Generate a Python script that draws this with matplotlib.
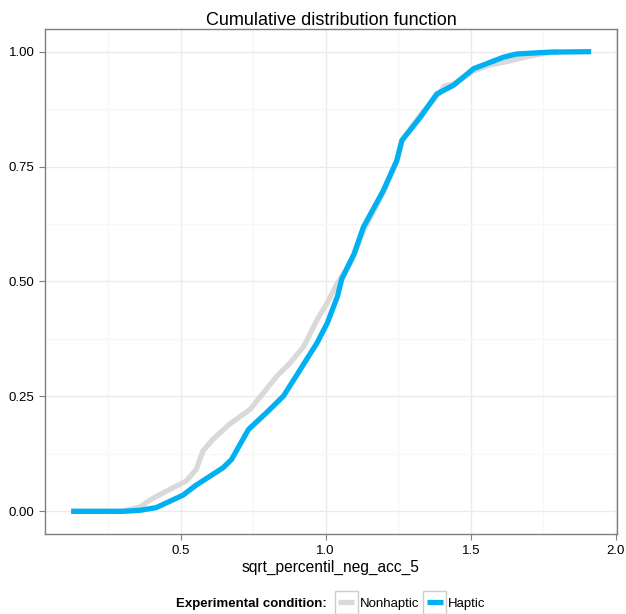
import matplotlib
matplotlib.use('Agg')
import matplotlib.pyplot as plt
from matplotlib.lines import Line2D
from matplotlib.patches import Rectangle
from matplotlib.legend_handler import HandlerBase

plt.rcParams['font.family'] = ['Liberation Sans', 'DejaVu Sans']

# ECDF curves (x, cumulative proportion)
nonhaptic_x = [0.123, 0.30, 0.358, 0.404, 0.473, 0.52, 0.554, 0.577, 0.612, 0.670,
               0.740, 0.786, 0.832, 0.878, 0.925, 0.971, 1.006, 1.041, 1.087, 1.133,
               1.199, 1.245, 1.263, 1.326, 1.383, 1.41, 1.441, 1.51, 1.560, 1.636,
               1.700, 1.760, 1.800]
nonhaptic_y = [0.0, 0.0, 0.009, 0.028, 0.051, 0.066, 0.091, 0.131, 0.157, 0.190,
               0.222, 0.258, 0.294, 0.323, 0.359, 0.417, 0.454, 0.497, 0.541, 0.613,
               0.694, 0.760, 0.807, 0.862, 0.903, 0.925, 0.930, 0.958, 0.970, 0.980,
               0.990, 0.997, 1.0]

haptic_x = [0.123, 0.30, 0.358, 0.416, 0.508, 0.554, 0.647, 0.676, 0.734, 0.797,
            0.855, 0.913, 0.971, 1.006, 1.041, 1.056, 1.098, 1.130, 1.199, 1.245,
            1.263, 1.326, 1.383, 1.441, 1.51, 1.613, 1.659, 1.774, 1.915]
haptic_y = [0.0, 0.0, 0.002, 0.008, 0.035, 0.057, 0.095, 0.113, 0.178, 0.215,
            0.251, 0.309, 0.367, 0.410, 0.468, 0.506, 0.560, 0.618, 0.698, 0.763,
            0.807, 0.857, 0.908, 0.927, 0.963, 0.988, 0.995, 0.999, 1.0]

conditions = ['Nonhaptic', 'Haptic']
x_ticks = [0.5, 1.0, 1.5, 2.0]
y_ticks = [0.0, 0.25, 0.5, 0.75, 1.0]

GRAY = '#d9d9d9'
BLUE = '#00b0f0'


class KeyBox(HandlerBase):
    # ggplot-like legend key: bordered square with a line inside
    def create_artists(self, legend, orig_handle, xdescent, ydescent,
                       width, height, fontsize, trans):
        mid = height / 2 - ydescent
        side = width
        box = Rectangle((-xdescent, mid - side / 2), width, side, fc='white',
                        ec='#cccccc', lw=1.0, transform=trans)
        line = Line2D([-xdescent + 2.5, -xdescent + width - 2.5], [mid, mid],
                      color=orig_handle.get_color(), lw=3.8, solid_capstyle='butt',
                      transform=trans)
        return [box, line]


fig = plt.figure(figsize=(6.26, 6.14), dpi=100)
ax = fig.add_axes([0.0719, 0.1298, 0.9137, 0.8235])

ax.plot(nonhaptic_x, nonhaptic_y, color=GRAY, lw=3.8, solid_capstyle='butt', zorder=3)
ax.plot(haptic_x, haptic_y, color=BLUE, lw=3.8, solid_capstyle='butt', zorder=4)

ax.set_xlim(0.033, 2.004)
ax.set_ylim(-0.05, 1.05)
ax.set_xticks(x_ticks)
ax.set_xticklabels(['0.5', '1.0', '1.5', '2.0'])
ax.set_yticks(y_ticks)
ax.set_yticklabels(['0.00', '0.25', '0.50', '0.75', '1.00'])
ax.set_xticks([0.25, 0.75, 1.25, 1.75], minor=True)
ax.set_yticks([0.125, 0.375, 0.625, 0.875], minor=True)
ax.grid(which='major', color='#ebebeb', lw=1.0, zorder=0)
ax.grid(which='minor', color='#f7f7f7', lw=1.0, zorder=0)
ax.tick_params(which='major', length=4, color='#7f7f7f', labelsize=9.5, labelcolor='black')
ax.tick_params(which='minor', length=0)
for s in ax.spines.values():
    s.set_color('#7f7f7f')
    s.set_linewidth(1.0)
ax.set_axisbelow(True)

ax.set_title('Cumulative distribution function', fontsize=13, pad=3)
ax.set_xlabel('sqrt_percentil_neg_acc_5', fontsize=11.2, labelpad=2)

handles = [Line2D([0], [0], color=GRAY, lw=3.8), Line2D([0], [0], color=BLUE, lw=3.8)]
fig.text(0.5224, 0.0163, 'Experimental condition:', fontsize=9.5, fontweight='bold',
         ha='right', va='center')
fig.legend(handles, conditions, loc='center left', bbox_to_anchor=(0.535, 0.0163),
           ncol=2, frameon=False, fontsize=9.5, handlelength=1.74, handletextpad=0.15,
           columnspacing=0.3, borderpad=0, borderaxespad=0,
           handler_map={Line2D: KeyBox()})

fig.savefig('out.png', dpi=100)
